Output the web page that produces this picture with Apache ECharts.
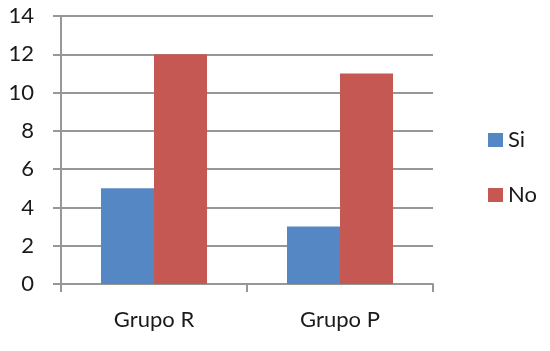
<!DOCTYPE html>
<html><head><meta charset="utf-8">
<script src="https://cdn.jsdelivr.net/npm/echarts@6/dist/echarts.min.js"></script>
<style>html,body{margin:0;padding:0;background:#fff}#c{width:550px;height:351px}</style>
</head><body><div id="c"></div>
<script>
const categories = ["Grupo R", "Grupo P"];
const seriesNames = ["Si", "No"];
const siValues = [5, 3];
const noValues = [12, 11];
const yMin = 0, yMax = 14, yInterval = 2;

const chart = echarts.init(document.getElementById('c'), null, {renderer: 'canvas'});
const font = 'Lato, "Open Sans", sans-serif';
const gray = '#979797';
chart.setOption({
  animation: false,
  backgroundColor: '#fff',
  grid: {left: 61, right: 117, top: 16, bottom: 67},
  legend: {
    orient: 'vertical', left: 483, top: 124,
    itemWidth: 15, itemHeight: 14, itemGap: 33,
    icon: 'rect',
    textStyle: {fontFamily: font, fontSize: 22, color: '#1a1a1a'},
    data: seriesNames
  },
  xAxis: {
    type: 'category', data: categories,
    axisLine: {lineStyle: {color: gray, width: 2}},
    axisTick: {show: true, length: 8, lineStyle: {color: gray, width: 2}},
    axisLabel: {margin: 25, fontFamily: font, fontSize: 22, color: '#1a1a1a'}
  },
  yAxis: {
    type: 'value', min: yMin, max: yMax, interval: yInterval,
    axisLine: {show: true, lineStyle: {color: gray, width: 2}},
    axisTick: {show: true, length: 8, lineStyle: {color: gray, width: 2}},
    splitLine: {show: true, lineStyle: {color: gray, width: 2}},
    axisLabel: {margin: 27, fontFamily: font, fontSize: 22, color: '#1a1a1a'}
  },
  series: [
    {name: seriesNames[0], type: 'bar', data: siValues, itemStyle: {color: '#5687C5'}, barGap: '0%', barCategoryGap: '43%'},
    {name: seriesNames[1], type: 'bar', data: noValues, itemStyle: {color: '#C65854'}, barGap: '0%', barCategoryGap: '43%'}
  ]
});
</script></body></html>
